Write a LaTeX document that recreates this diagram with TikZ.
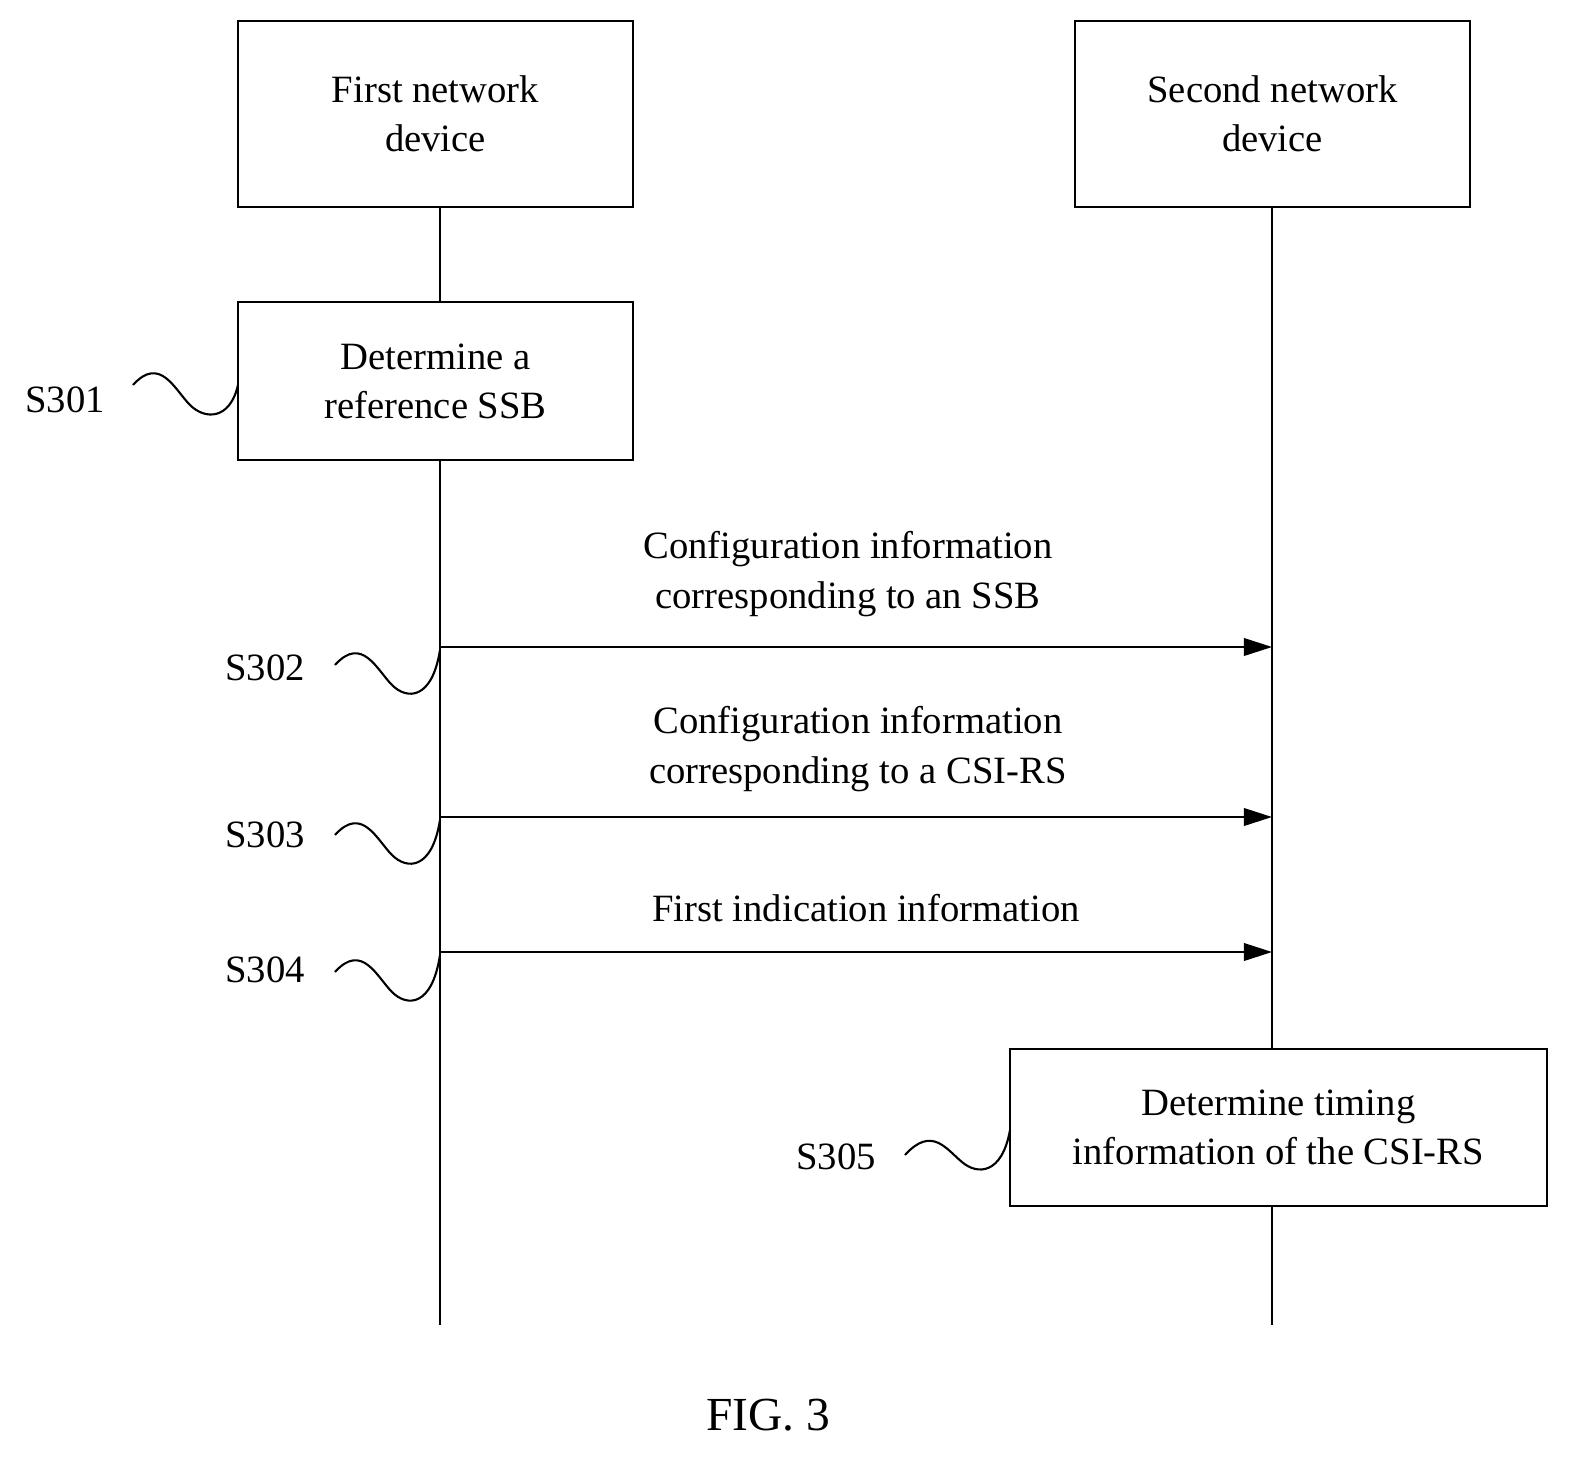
\documentclass[tikz,border=0pt]{standalone}
\usepackage{fontspec}
\setmainfont{Liberation Serif}
\usetikzlibrary{arrows.meta}
\begin{document}
\begin{tikzpicture}[x=0.02cm,y=-0.02cm,
 txt/.style={font=\fontsize{22}{28}\selectfont,align=center},
 box/.style={draw,line width=1.2pt,txt,inner sep=0},
 ln/.style={line width=1.2pt},
 msg/.style={ln,-{Triangle[length=16pt,width=10pt]}}]
\useasboundingbox (0,0) rectangle (1589,1477);
\node[box,minimum width=395*0.02cm,minimum height=186*0.02cm] (A) at (435.5,114) {First network\\device};
\node[box,minimum width=395*0.02cm,minimum height=186*0.02cm] (B) at (1272.5,114) {Second network\\device};
\node[box,minimum width=395*0.02cm,minimum height=158*0.02cm] (S1) at (435.5,381) {Determine a\\reference SSB};
\node[box,minimum width=537*0.02cm,minimum height=157*0.02cm] (S5) at (1278.5,1127.5) {Determine timing\\information of the CSI-RS};
\coordinate (Aend) at (440,1325);
\coordinate (Bend) at (1272,1325);
\draw[ln] (440,207) -- (440,302);
\draw[ln] (440,460) -- (Aend);
\draw[ln] (1272,207) -- (1272,1049);
\draw[ln] (1272,1206) -- (Bend);
\coordinate (a2) at (440,647); \coordinate (b2) at (1272,647);
\coordinate (a3) at (440,817); \coordinate (b3) at (1272,817);
\coordinate (a4) at (440,952); \coordinate (b4) at (1272,952);
\draw[msg] (a2) -- (b2);
\draw[msg] (a3) -- (b3);
\draw[msg] (a4) -- (b4);
\node[txt] (m2) at (848,574) {Configuration information\\corresponding to an SSB};
\node[txt] (m3) at (858,749) {Configuration information\\corresponding to a CSI-RS};
\node[txt] (m4) at (866,908) {First indication information};
% squiggles
\draw[ln] (133,385) .. controls (160,355) and (175,390) .. (190,405) .. controls (205,420) and (230,420) .. (238,385);
\draw[ln] (335,665) .. controls (362,635) and (377,670) .. (392,685) .. controls (407,700) and (432,700) .. (440,650);
\draw[ln] (335,835) .. controls (362,805) and (377,840) .. (392,855) .. controls (407,870) and (432,870) .. (440,820);
\draw[ln] (335,972) .. controls (362,942) and (377,977) .. (392,992) .. controls (407,1007) and (432,1007) .. (440,955);
\draw[ln] (905,1155) .. controls (932,1125) and (947,1150) .. (962,1162) .. controls (977,1175) and (1002,1175) .. (1010,1130);
\node[txt] (l1) at (65,400) {S301};
\node[txt] (l2) at (265,668) {S302};
\node[txt] (l3) at (265,835) {S303};
\node[txt] (l4) at (265,970) {S304};
\node[txt] (l5) at (836,1157) {S305};
\node[font=\fontsize{27}{32}\selectfont] (fig) at (768,1415) {FIG. 3};
\end{tikzpicture}
\end{document}
